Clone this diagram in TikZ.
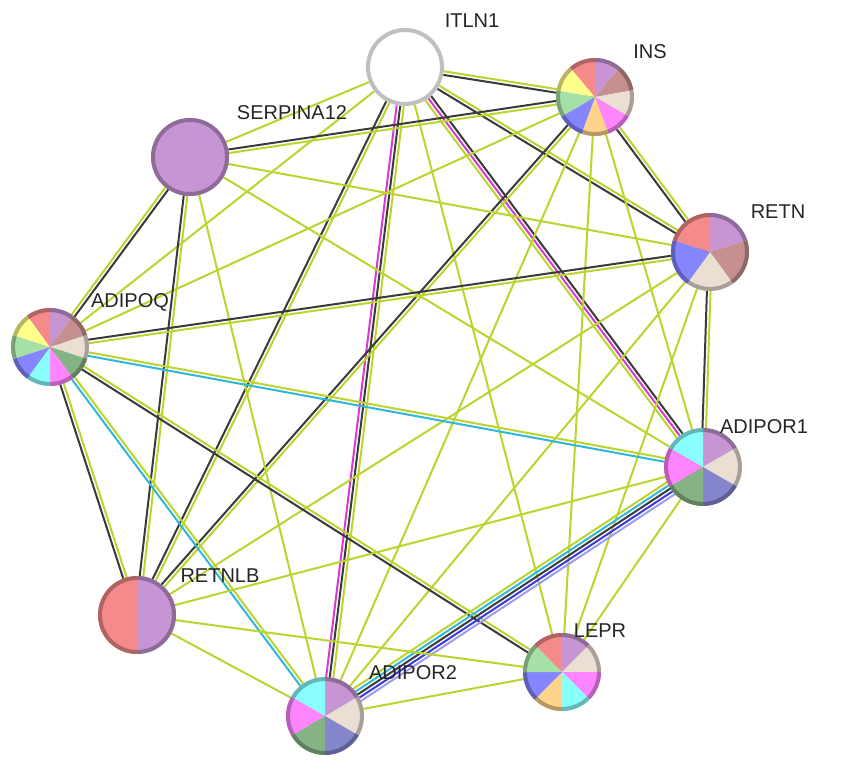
\documentclass[tikz,border=0pt]{standalone}
\usepackage{fontspec}
\setmainfont{Liberation Sans}
\usetikzlibrary{calc}
\definecolor{tg}{HTML}{BCD42E}
\definecolor{bk}{HTML}{3A3A3A}
\definecolor{mg}{HTML}{D63AD6}
\definecolor{cy}{HTML}{2EB8DA}
\definecolor{bl}{HTML}{3A3AE0}
\definecolor{lv}{HTML}{9C9CF0}
\definecolor{pRed}{HTML}{F58A8A}
\definecolor{pPur}{HTML}{C795D4}
\definecolor{pRos}{HTML}{C79090}
\definecolor{pBei}{HTML}{EADFD2}
\definecolor{pMag}{HTML}{FF85FF}
\definecolor{pOra}{HTML}{FFD48A}
\definecolor{pBlu}{HTML}{8585FF}
\definecolor{pGre}{HTML}{A6E0A6}
\definecolor{pYel}{HTML}{FFFF8A}
\definecolor{pCya}{HTML}{8AFFFF}
\definecolor{pDgr}{HTML}{86B386}
\definecolor{pSla}{HTML}{8585CC}
\tikzset{x=1pt,y=1pt,
 lbl/.style={font=\fontsize{20}{20}\selectfont,text=black!85,inner sep=1pt},
 prot/.style={circle,minimum size=80pt,inner sep=0pt}}
\newcommand\edg[4]{% a b n colors
 \foreach \cc [count=\ii] in {#4}{%
  \pgfmathsetmacro\oo{(\ii-(#3+1)/2)*3.6}%
  \draw[\cc,line width=2pt] ($(#1)!\oo pt!90:(#2)$) -- ($(#2)!\oo pt!-90:(#1)$);}}
\newcommand\piech[3]{% center n colors
 \foreach \cc [count=\ii] in {#3}{%
  \pgfmathsetmacro\sa{90-(\ii-1)*360/#2}%
  \pgfmathsetmacro\ea{90-\ii*360/#2}%
  \fill[\cc] (#1) -- ++(\sa:39) arc[start angle=\sa,end angle=\ea,radius=39] -- cycle;
  \draw[\cc!65!black,line width=4pt,opacity=0.8] ($(#1)+(\sa:37)$) arc[start angle=\sa,end angle=\ea,radius=37];}}
\begin{document}
\begin{tikzpicture}
\useasboundingbox[fill=white] (0,0) rectangle (851,-765);
\coordinate (itln1) at (405,-67);
\coordinate (ins) at (595,-97);
\coordinate (serp) at (190,-157);
\coordinate (retn) at (710,-252);
\coordinate (adipoq) at (50,-347);
\coordinate (adipor1) at (703,-467);
\coordinate (retnlb) at (137,-615);
\coordinate (lepr) at (562,-672);
\coordinate (adipor2) at (325,-716);
% edges
\edg{itln1}{ins}{2}{bk,tg}
\edg{itln1}{serp}{1}{tg}
\edg{itln1}{adipoq}{1}{tg}
\edg{itln1}{retn}{2}{bk,tg}
\edg{itln1}{adipor1}{3}{tg,mg,bk}
\edg{itln1}{adipor2}{3}{mg,bk,tg}
\edg{itln1}{retnlb}{2}{bk,tg}
\edg{itln1}{lepr}{1}{tg}
\edg{ins}{serp}{2}{bk,tg}
\edg{ins}{adipoq}{1}{tg}
\edg{ins}{retn}{2}{bk,tg}
\edg{ins}{adipor1}{1}{tg}
\edg{ins}{adipor2}{1}{tg}
\edg{ins}{retnlb}{2}{bk,tg}
\edg{ins}{lepr}{1}{tg}
\edg{serp}{adipoq}{2}{tg,bk}
\edg{serp}{retnlb}{2}{bk,tg}
\edg{serp}{retn}{1}{tg}
\edg{serp}{adipor1}{1}{tg}
\edg{serp}{adipor2}{1}{tg}
\edg{retn}{adipoq}{2}{bk,tg}
\edg{retn}{adipor1}{2}{bk,tg}
\edg{retn}{adipor2}{1}{tg}
\edg{retn}{lepr}{1}{tg}
\edg{retn}{retnlb}{1}{tg}
\edg{adipoq}{adipor1}{2}{cy,tg}
\edg{adipoq}{adipor2}{2}{cy,tg}
\edg{adipoq}{retnlb}{2}{bk,tg}
\edg{adipoq}{lepr}{2}{bk,tg}
\edg{adipor1}{adipor2}{5}{tg,cy,bk,bl,lv}
\edg{adipor1}{lepr}{1}{tg}
\edg{adipor1}{retnlb}{1}{tg}
\edg{retnlb}{adipor2}{1}{tg}
\edg{retnlb}{lepr}{1}{tg}
\edg{adipor2}{lepr}{1}{tg}
% nodes
\fill[white] (itln1) circle (39);
\draw[black!25,line width=4pt] (itln1) circle (37);
\fill[pPur] (serp) circle (39);
\draw[pPur!65!black,line width=4pt,opacity=0.8] (serp) circle (37);
\piech{ins}{9}{pPur,pRos,pBei,pMag,pOra,pBlu,pGre,pYel,pRed}
\piech{retn}{5}{pPur,pRos,pBei,pBlu,pRed}
\piech{adipoq}{10}{pPur,pRos,pBei,pDgr,pMag,pCya,pBlu,pGre,pYel,pRed}
\piech{adipor1}{6}{pPur,pBei,pSla,pDgr,pMag,pCya}
\piech{retnlb}{2}{pPur,pRed}
\piech{lepr}{8}{pPur,pBei,pMag,pCya,pOra,pBlu,pGre,pRed}
\piech{adipor2}{6}{pPur,pBei,pSla,pDgr,pMag,pCya}
\node[prot] (n-itln1) at (itln1) {};
\node[prot] (n-ins) at (ins) {};
\node[prot] (n-serp) at (serp) {};
\node[prot] (n-retn) at (retn) {};
\node[prot] (n-adipoq) at (adipoq) {};
\node[prot] (n-adipor1) at (adipor1) {};
\node[prot] (n-retnlb) at (retnlb) {};
\node[prot] (n-lepr) at (lepr) {};
\node[prot] (n-adipor2) at (adipor2) {};
% labels
\node[lbl] (l1) at (472,-21) {ITLN1};
\node[lbl] (l2) at (650,-52) {INS};
\node[lbl] (l3) at (292,-113) {SERPINA12};
\node[lbl] (l4) at (778,-212) {RETN};
\node[lbl] (l5) at (130,-302) {ADIPOQ};
\node[lbl] (l6) at (764,-427) {ADIPOR1};
\node[lbl] (l7) at (220,-576) {RETNLB};
\node[lbl] (l8) at (600,-631) {LEPR};
\node[lbl] (l9) at (413,-673) {ADIPOR2};
\end{tikzpicture}
\end{document}
